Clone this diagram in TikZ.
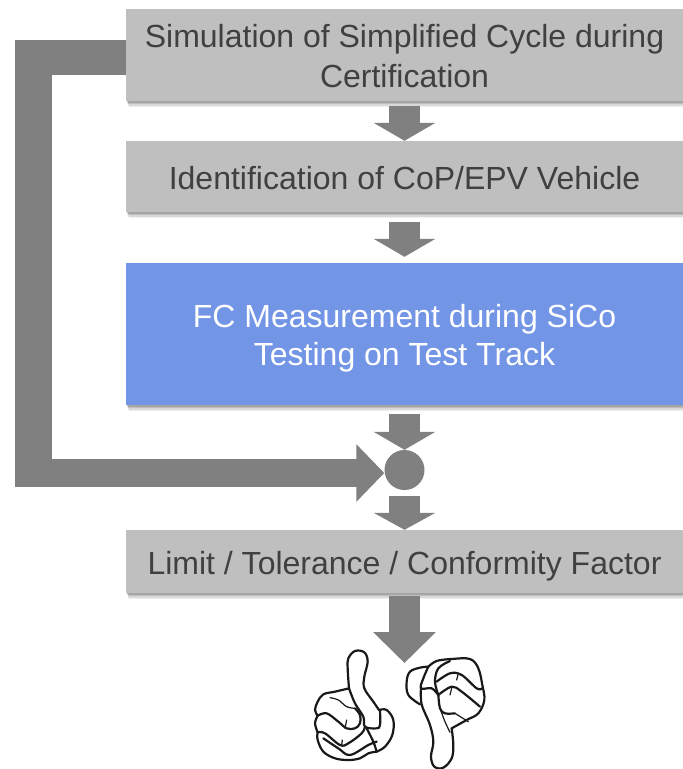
\documentclass[tikz,border=0pt]{standalone}
\usepackage{fontspec}
\setmainfont{Liberation Sans}
\usetikzlibrary{arrows.meta,shadows}
\definecolor{boxgray}{HTML}{BFBFBF}
\definecolor{boxblue}{HTML}{7395E6}
\definecolor{flowgray}{HTML}{808080}
\definecolor{textgray}{HTML}{404040}
\newcommand{\textdrop}[1]{\rule{0pt}{#1}}
\begin{document}
\begin{tikzpicture}[x=1pt,y=-1pt]
      \tikzstyle{box} = [rectangle, fill=boxgray, text=textgray, minimum width=557pt, align=center, inner sep=0pt,
        font=\fontsize{32}{37}\selectfont,
        drop shadow={shadow xshift=2.5pt,shadow yshift=-6pt,opacity=0.12},
        drop shadow={shadow xshift=2pt,shadow yshift=-4.5pt,opacity=0.2},
        drop shadow={shadow xshift=1.5pt,shadow yshift=-3pt,opacity=0.3},
        drop shadow={shadow xshift=1pt,shadow yshift=-1.5pt,opacity=0.4}]
      \tikzstyle{flow} = [flowgray, line width=31pt, -{Triangle[width=61pt,length=18pt]}]
      \tikzstyle{loopline} = [flowgray]
      \tikzstyle{hand} = [line width=2.2pt, black!90, line cap=round, line join=round]
      \tikzstyle{fine} = [line width=1.2pt]
      \useasboundingbox (0,0) rectangle (683,769);
      % boxes
      \node (sim) [box, minimum height=92pt] at (404.5,55) {\textdrop{26.3pt}Simulation of Simplified Cycle during\\[3pt]Certification};
      \node (ident) [box, minimum height=71pt] at (404.5,176.5) {\textdrop{27.3pt}Identification of CoP/EPV Vehicle};
      \node (meas) [box, fill=boxblue, text=white, minimum height=142pt] at (404.5,334) {\textdrop{32.3pt}FC Measurement during SiCo\\[1pt]Testing on Test Track};
      \node (dot) [circle, fill=flowgray, minimum size=40pt, inner sep=0pt] at (404.5,470) {};
      \node (limit) [box, minimum height=63pt] at (404.5,561.5) {\textdrop{33.3pt}Limit / Tolerance / Conformity Factor};
      \coordinate (verdict) at (404.5,663);
      \coordinate (top) at (33.5,57.5);
      \coordinate (bottom) at (33.5,473);
      % arrows
      \draw [flow, shorten <=5pt] (sim)--(ident);
      \draw [flow, shorten <=10pt, shorten >=6pt] (ident)--(meas);
      \draw [flow, shorten <=9pt] (meas)--(dot);
      \draw [flow, shorten <=6pt, -{Triangle[width=61pt,length=17pt]}] (dot)--(limit);
      \draw [flow, shorten <=3pt, -{Triangle[width=61pt,length=31pt]}] (limit)--(verdict);
      % feedback line
      \draw [loopline, line width=35pt] (sim.west |- top)--([xshift=-18.5pt]top);
      \draw [loopline, line width=37pt] ([yshift=17.5pt]top)--([yshift=-14pt]bottom);
      \draw [loopline, line width=28pt, -{Triangle[width=56pt,length=28pt]}] ([xshift=-18.5pt]bottom)--(dot.west |- bottom);
      % thumb up
      \begin{scope}[shift={(305,645)}, x=0.3333pt, y=-0.3333pt, hand]
        \draw plot[smooth, tension=0.6] coordinates {(132,130) (128,70) (130,40) (150,18) (178,22) (188,50) (178,95) (178,130) (205,170) (222,195)};
        \draw plot[smooth, tension=0.6] coordinates {(222,195) (245,195) (265,225) (262,270) (240,305) (215,320)};
        \draw plot[smooth, tension=0.6] coordinates {(215,320) (190,325) (165,340) (130,345) (90,340) (55,320) (38,285) (38,262)};
        \draw plot[smooth, tension=0.6] coordinates {(38,262) (30,235) (38,212)};
        \draw plot[smooth, tension=0.6] coordinates {(38,212) (30,195) (38,170) (55,148) (90,140) (132,130)};
        \draw plot[smooth, tension=0.6] coordinates {(38,212) (65,205) (100,230) (125,250) (150,250) (165,235) (165,210) (150,190)};
        \draw plot[smooth, tension=0.6] coordinates {(38,262) (60,265) (105,300) (130,295) (170,265) (180,245)};
        \draw plot[smooth, tension=0.6] coordinates {(132,130) (150,175) (175,215) (180,245) (215,250) (225,240) (225,195)};
        \draw plot[smooth, tension=0.6] coordinates {(55,280) (100,310) (135,330) (190,300) (215,290)};
        \draw plot[smooth, tension=0.6] coordinates {(185,250) (205,290) (215,320)};
        \draw [fine] plot[smooth, tension=0.6] coordinates {(75,158) (100,165) (125,185) (150,190)};
        \draw [fine] (125,225)--(120,250);
        \draw [fine] (112,285)--(110,300);
      \end{scope}
      % thumb down
      \begin{scope}[shift={(395,645)}, x=0.3333pt, y=-0.3333pt, hand]
        \draw plot[smooth, tension=0.6] coordinates {(170,250) (215,225) (250,205) (268,165) (262,120) (250,70) (225,42) (170,42) (125,48) (100,65)};
        \draw plot[smooth, tension=0.6] coordinates {(100,65) (75,68) (45,80) (35,110) (40,150) (75,178)};
        \draw plot[smooth, tension=0.6] coordinates {(78,130) (80,178) (105,240) (115,290) (108,335) (118,365) (145,368) (170,340) (175,300) (170,250)};
        \draw plot[smooth, tension=0.6] coordinates {(100,65) (85,100) (78,130) (110,130) (130,150)};
        \draw plot[smooth, tension=0.6] coordinates {(130,150) (120,110) (130,70) (165,48)};
        \draw plot[smooth, tension=0.6] coordinates {(125,110) (165,85) (200,90) (245,130) (262,130)};
        \draw plot[smooth, tension=0.6] coordinates {(130,150) (170,125) (200,140) (255,185)};
        \draw plot[smooth, tension=0.6] coordinates {(130,150) (135,190) (150,205) (180,205)};
        \draw [fine] (180,205)--(220,230);
        \draw [fine] plot[smooth, tension=0.6] coordinates {(135,190) (150,230) (165,262)};
        \draw [fine] (190,85)--(185,105);
        \draw [fine] (170,130)--(165,150);
      \end{scope}
    \end{tikzpicture}
\end{document}
